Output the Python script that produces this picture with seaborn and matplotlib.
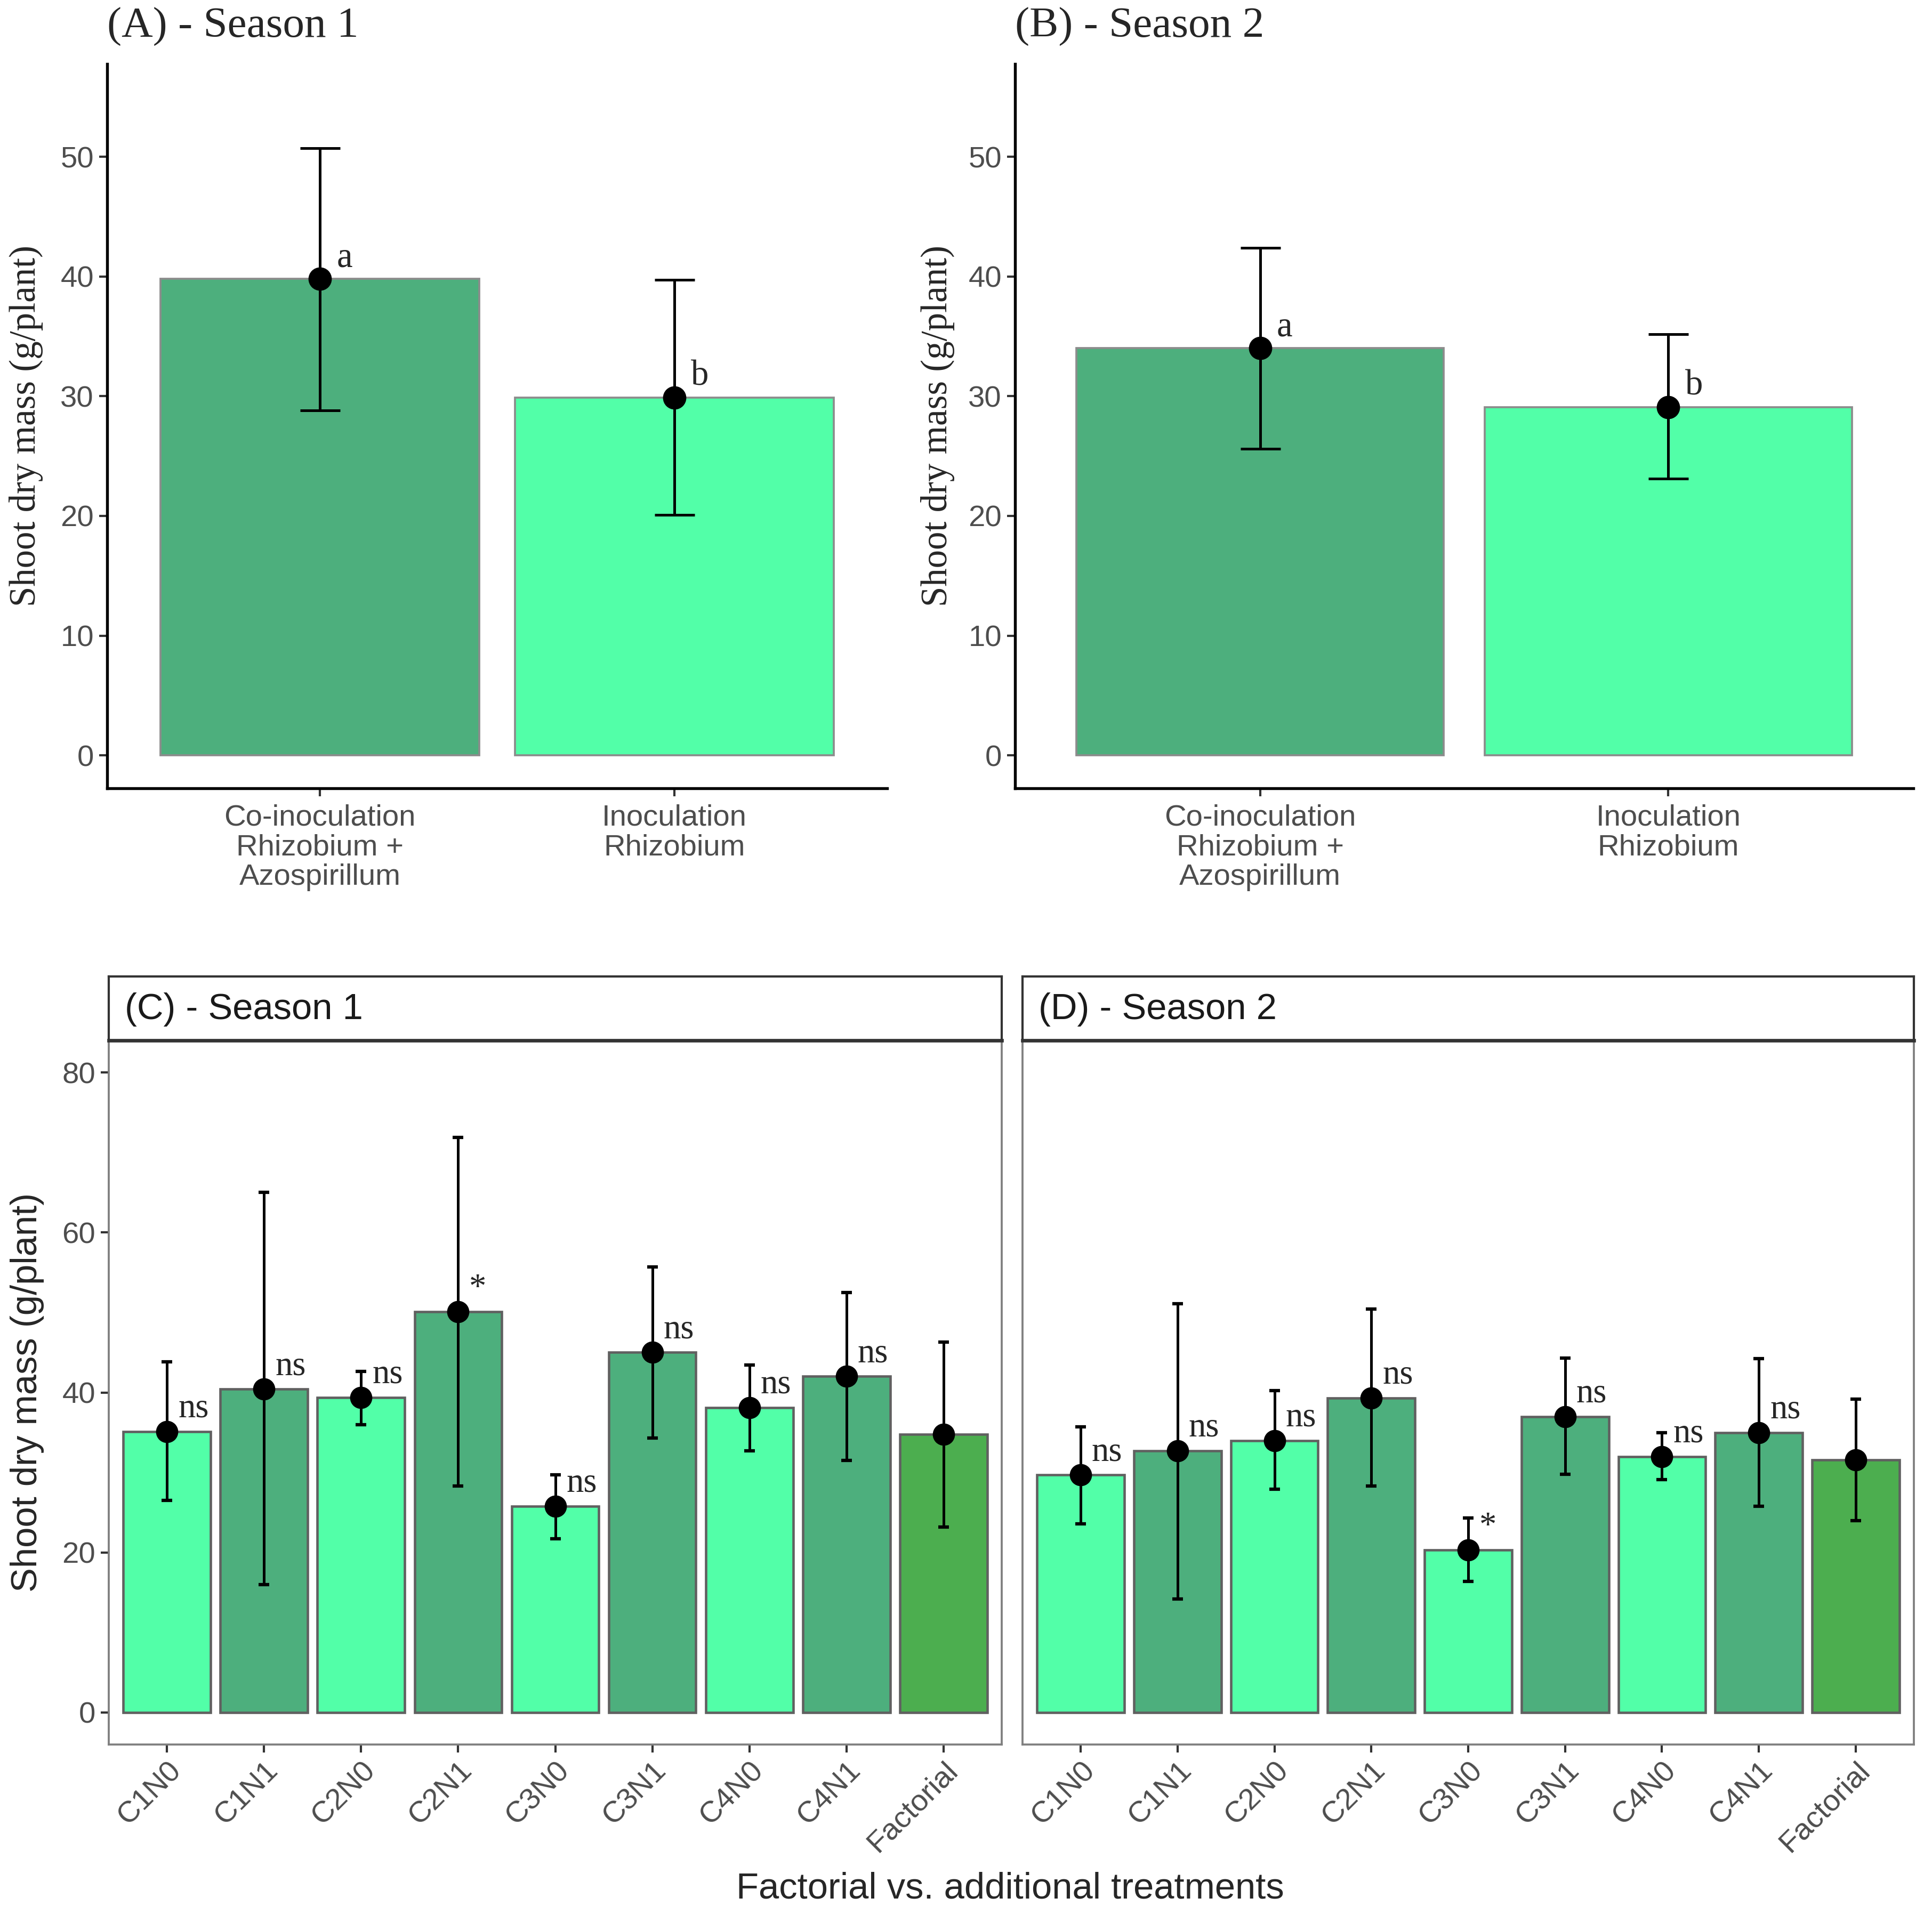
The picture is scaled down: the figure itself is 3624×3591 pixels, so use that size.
import matplotlib.pyplot as plt
import numpy as np
import pandas as pd
import seaborn as sns

# (A) / (B): co-inoculation vs inoculation
inoc_groups = ['Co-inoculation\nRhizobium +\nAzospirillum', 'Inoculation\nRhizobium']
inoc_s1_mean = [39.8, 29.9]
inoc_s1_low = [28.8, 20.1]
inoc_s1_high = [50.7, 39.7]
inoc_s2_mean = [34.0, 29.1]
inoc_s2_low = [25.6, 23.1]
inoc_s2_high = [42.4, 35.2]
inoc_letters = ['a', 'b']

# (C) / (D): factorial vs additional treatments
treatments = ['C1N0', 'C1N1', 'C2N0', 'C2N1', 'C3N0', 'C3N1', 'C4N0', 'C4N1', 'Factorial']
treat_kind = ['N0', 'N1', 'N0', 'N1', 'N0', 'N1', 'N0', 'N1', 'Factorial']
s1_mean = [35.1, 40.4, 39.4, 50.1, 25.8, 45.0, 38.1, 42.0, 34.8]
s1_low = [26.5, 16.0, 36.0, 28.3, 21.7, 34.3, 32.7, 31.5, 23.2]
s1_high = [43.8, 65.0, 42.6, 71.9, 29.7, 55.7, 43.4, 52.5, 46.3]
s1_sig = ['ns', 'ns', 'ns', '*', 'ns', 'ns', 'ns', 'ns', '']
s2_mean = [29.7, 32.7, 34.0, 39.3, 20.3, 37.0, 32.0, 35.0, 31.6]
s2_low = [23.6, 14.2, 27.9, 28.3, 16.4, 29.8, 29.1, 25.8, 24.0]
s2_high = [35.7, 51.1, 40.2, 50.4, 24.3, 44.3, 35.0, 44.2, 39.2]
s2_sig = ['ns', 'ns', 'ns', 'ns', '*', 'ns', 'ns', 'ns', '']

dark_green = '#4DAF7D'
light_green = '#52FFA8'
fact_green = '#4CAE4F'
tick_grey = '#4D4D4D'

sns.set_theme(style='white')
plt.rcParams['font.family'] = ['Liberation Sans', 'DejaVu Sans']
SERIF = ['Liberation Serif', 'DejaVu Serif']

W, H = 3624, 3591
fig = plt.figure(figsize=(W / 300, H / 300), dpi=300)


def frac(left, top, right, bottom):
    return [left / W, 1 - bottom / H, (right - left) / W, (bottom - top) / H]


def draw_inoc(ax, means, lows, highs, title, label_x):
    df = pd.DataFrame({'group': inoc_groups, 'mean': means})
    sns.barplot(data=df, x='group', y='mean', hue='group',
                palette={inoc_groups[0]: dark_green, inoc_groups[1]: light_green},
                width=0.9, dodge=False, saturation=1, edgecolor='#8C8C8C',
                linewidth=0.9, legend=False, ax=ax)
    pos = np.arange(len(means))
    m = np.array(means)
    ax.errorbar(pos, m, yerr=[m - np.array(lows), np.array(highs) - m], fmt='o',
                color='black', ms=9.5, elinewidth=1.2, capsize=9, capthick=1.2, zorder=5)
    for i, lab in enumerate(inoc_letters):
        ax.annotate(lab, (pos[i], means[i]), xytext=(7.5, 5.5), textcoords='offset points',
                    ha='left', va='baseline', fontsize=16, family=SERIF, zorder=6)
    ax.set_xlim(-0.6, 1.6)
    ax.set_ylim(-2.75, 57.75)
    ax.set_yticks([0, 10, 20, 30, 40, 50])
    ax.set_xlabel('')
    ax.set_ylabel('Shoot dry mass (g/plant)', fontsize=16.5, family=SERIF)
    ax.yaxis.set_label_coords(label_x, 0.5)
    for s in ['top', 'right']:
        ax.spines[s].set_visible(False)
    for s in ['left', 'bottom']:
        ax.spines[s].set_color('black')
        ax.spines[s].set_linewidth(1.3)
    ax.tick_params(axis='both', length=3.5, width=1.0, color='#333333', labelcolor=tick_grey,
                   labelsize=13.5, pad=2.5, left=True, bottom=True)
    ax.tick_params(axis='x', pad=3.5)
    for t in ax.get_xticklabels():
        t.set_linespacing(1.1)
    ax.set_title(title, loc='left', fontsize=19.5, family=SERIF, pad=12)


ax_a = fig.add_axes(frac(201, 120, 1664, 1479))
draw_inoc(ax_a, inoc_s1_mean, inoc_s1_low, inoc_s1_high, '(A) - Season 1', -0.082)
ax_b = fig.add_axes(frac(1904, 120, 3589, 1479))
draw_inoc(ax_b, inoc_s2_mean, inoc_s2_low, inoc_s2_high, '(B) - Season 2', -0.067)

palette_bottom = {'N0': light_green, 'N1': dark_green, 'Factorial': fact_green}


def draw_treat(left, right, means, lows, highs, sigs, strip, show_y):
    ax = fig.add_axes(frac(left, 1952, right, 3273))
    df = pd.DataFrame({'treatment': treatments, 'kind': treat_kind, 'mean': means})
    sns.barplot(data=df, x='treatment', y='mean', hue='kind', palette=palette_bottom,
                width=0.9, dodge=False, saturation=1, edgecolor='#606060',
                linewidth=1.1, legend=False, ax=ax)
    pos = np.arange(len(means))
    m = np.array(means)
    ax.errorbar(pos, m, yerr=[m - np.array(lows), np.array(highs) - m], fmt='o',
                color='black', ms=9, elinewidth=1.2, capsize=2.5, capthick=1.5, zorder=5)
    for i, lab in enumerate(sigs):
        if lab:
            ax.annotate(lab, (pos[i], means[i]), xytext=(5, 6.5), textcoords='offset points',
                        ha='left', va='baseline', fontsize=15.5, family=SERIF, zorder=6)
    ax.set_xlim(-0.6, len(means) - 0.4)
    ax.set_ylim(-4, 84)
    ax.set_yticks([0, 20, 40, 60, 80])
    ax.set_xlabel('')
    for s in ax.spines.values():
        s.set_color('#7F7F7F')
        s.set_linewidth(0.9)
    ax.tick_params(axis='x', length=3.5, width=1.0, color='#333333', labelcolor=tick_grey,
                   labelsize=13.5, pad=2, bottom=True)
    plt.setp(ax.get_xticklabels(), rotation=45, ha='right', rotation_mode='anchor')
    if show_y:
        ax.tick_params(axis='y', length=3.5, width=1.0, color='#333333', labelcolor=tick_grey,
                       labelsize=13.5, pad=2.5, left=True)
        ax.set_ylabel('Shoot dry mass (g/plant)', fontsize=16.5)
        ax.yaxis.set_label_coords(-0.072, 0.5)
    else:
        ax.set_ylabel('')
        ax.tick_params(axis='y', left=False, labelleft=False)
    # facet strip
    sax = fig.add_axes(frac(left, 1832, right, 1952))
    sax.set_xticks([])
    sax.set_yticks([])
    sax.set_facecolor('white')
    for s in sax.spines.values():
        s.set_color('#333333')
        s.set_linewidth(1.0)
    sax.spines['bottom'].set_linewidth(1.6)
    sax.text(0.018, 0.48, strip, transform=sax.transAxes, ha='left', va='center',
             fontsize=16.5, color='#1A1A1A')
    return ax


draw_treat(204, 1879, s1_mean, s1_low, s1_high, s1_sig, '(C) - Season 1', True)
draw_treat(1918, 3590, s2_mean, s2_low, s2_high, s2_sig, '(D) - Season 2', False)

fig.text(1895 / W, 1 - 3543 / H, 'Factorial vs. additional treatments', ha='center',
         va='center', fontsize=16.5)

fig.savefig('out.png', dpi=300, facecolor='white')
